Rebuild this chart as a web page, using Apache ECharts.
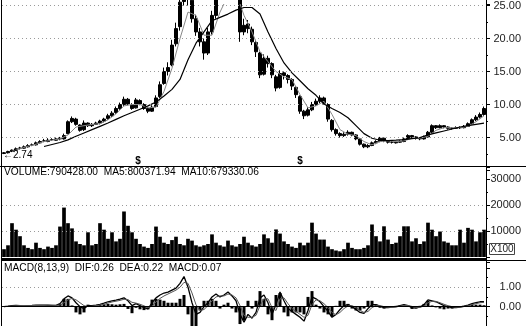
<!DOCTYPE html>
<html><head><meta charset="utf-8">
<script src="https://cdn.jsdelivr.net/npm/echarts@6/dist/echarts.min.js"></script>
<style>html,body{margin:0;padding:0;background:#fff}#c{width:526px;height:326px}</style>
</head><body><div id="c"></div>
<script>
// Price candles [open, close, low, high]
const ohlc = [
[2.6,2.7,2.5,2.8],[2.7,2.9,2.6,3.0],[2.9,3.1,2.8,3.2],[3.1,3.3,3.0,3.5],[3.4,3.4,3.2,3.6],[3.4,3.6,3.3,3.8],[3.6,3.8,3.5,4.0],[3.9,3.9,3.7,4.1],[3.9,4.2,3.8,4.4],[4.2,4.4,4.1,4.6],
[4.5,4.5,4.3,4.8],[4.4,4.6,4.3,4.9],[4.7,4.7,4.5,4.9],[4.6,4.8,4.5,5.0],[4.9,4.8,4.6,5.1],[4.8,5.3,4.7,5.6],[5.6,7.4,5.5,7.6],[7.4,7.9,7.2,8.2],[7.8,7.0,6.8,8.0],[6.9,6.1,5.9,7.0],
[6.2,7.2,6.0,7.6],[7.2,6.8,6.6,7.3],[6.8,7.0,6.6,7.2],[7.0,7.2,6.9,7.4],[7.2,7.5,7.0,7.7],[7.5,7.8,7.3,8.0],[7.9,8.3,7.7,8.6],[8.3,8.7,8.1,9.0],[8.8,9.4,8.6,9.7],[9.4,10.0,9.2,10.3],
[10.0,10.8,9.8,11.2],[10.8,10.1,9.9,11.0],[10.0,9.4,9.2,10.2],[9.5,10.7,9.4,11.0],[10.6,10.1,9.9,10.8],[10.0,9.4,9.2,10.2],[9.4,9.0,8.7,9.6],[9.0,9.6,8.9,9.9],[9.7,11.0,9.6,11.4],[11.2,13.0,11.0,13.5],
[13.2,15.0,13.0,15.6],[15.0,15.6,14.4,16.4],[16.0,19.0,15.8,19.8],[19.2,21.5,18.8,22.4],[21.8,25.5,21.2,26.5],[25.6,27.5,25.0,29.0],[27.4,26.0,25.0,28.4],[25.8,23.0,22.4,26.4],[23.0,21.0,20.4,23.6],[21.0,19.5,18.8,21.6],
[19.5,17.8,16.8,20.0],[17.8,21.0,17.5,21.6],[21.0,23.5,20.6,24.2],[23.5,26.0,23.0,27.0],[26.0,27.5,25.4,28.6],[27.5,28.5,26.8,29.6],[28.4,27.0,26.0,29.0],[27.0,29.0,26.6,30.0],[28.8,26.5,25.6,29.4],[26.0,21.0,19.5,26.5],
[21.0,22.0,20.5,23.0],[22.2,21.5,20.8,22.8],[21.4,19.5,19.0,21.8],[19.4,18.0,17.2,19.8],[17.8,14.5,14.0,18.0],[14.6,17.0,14.4,17.6],[17.0,16.2,15.6,17.4],[16.2,14.5,14.0,16.4],[14.2,12.5,12.0,14.5],[12.6,14.7,12.4,15.2],
[14.8,14.4,13.8,15.0],[14.4,13.8,13.2,14.6],[13.8,12.8,12.2,14.0],[12.6,11.5,11.0,12.8],[11.2,9.0,8.6,11.4],[9.0,8.3,7.8,9.2],[8.4,9.2,8.2,9.6],[9.2,10.0,9.0,10.4],[10.0,10.5,9.8,10.9],[10.5,11.0,10.2,11.4],
[11.0,10.2,10.0,11.2],[10.0,7.8,7.4,10.2],[7.6,6.2,5.9,7.8],[6.2,5.6,5.3,6.4],[5.6,5.3,5.0,5.8],[5.3,5.5,5.1,5.8],[5.5,5.8,5.3,6.1],[5.8,5.4,5.2,5.9],[5.4,4.8,4.6,5.5],[4.8,4.0,3.8,4.9],
[4.0,3.6,3.4,4.1],[3.6,3.8,3.4,4.0],[3.8,4.2,3.7,4.4],[4.2,4.4,4.0,4.6],[4.4,4.9,4.3,5.1],[4.9,4.5,4.3,5.0],[4.5,4.3,4.1,4.6],[4.3,4.3,4.1,4.5],[4.2,4.3,4.1,4.5],[4.3,4.4,4.2,4.6],
[4.4,4.8,4.3,5.0],[4.8,5.3,4.7,5.5],[5.3,5.1,4.9,5.4],[5.1,4.9,4.7,5.2],[4.9,4.8,4.6,5.0],[4.8,5.1,4.7,5.3],[5.1,5.8,5.0,6.0],[5.8,6.8,5.7,7.0],[6.8,6.5,6.3,6.9],[6.5,6.8,6.4,7.0],
[6.8,6.6,6.4,6.9],[6.6,6.4,6.2,6.7],[6.4,6.4,6.2,6.6],[6.4,6.5,6.3,6.7],[6.5,6.5,6.3,6.7],[6.5,6.7,6.4,6.9],[6.7,7.1,6.6,7.3],[7.1,7.7,7.0,7.9],[7.7,8.1,7.5,8.4],[8.1,8.5,7.9,8.8],
[8.5,9.4,8.3,9.7]
];
// short moving average, read every second bar starting at bar 2
const maShort = [2.9,3.3,3.7,4.0,4.4,4.6,4.8,5.4,6.6,6.8,
7.0,7.1,7.7,8.6,9.8,10.0,10.0,9.5,9.6,12.0,
15.5,20.0,24.0,23.5,20.5,20.5,24.0,26.5,27.0,23.5,
21.0,18.0,16.5,15.0,14.2,13.8,11.5,9.5,9.8,10.5,
8.5,6.2,5.5,5.3,4.4,3.9,4.4,4.5,4.4,4.5,
4.9,4.9,5.2,6.1,6.5,6.5,6.5,6.7,7.4,8.3];
// long moving average, read every second bar starting at bar 10
const maLong = [3.65,3.95,4.25,4.65,5.2,5.7,6.2,6.7,7.2,7.75,
8.3,8.8,9.3,9.8,10.4,11.3,12.3,13.8,16.8,19.3,
21.0,22.7,23.2,23.7,24.3,24.7,24.7,23.7,21.0,18.5,
16.3,14.8,13.6,12.4,11.4,10.1,9.4,8.8,8.0,6.8,
5.6,4.9,4.6,4.55,4.6,4.7,4.85,5.0,5.4,5.7,
6.0,6.3,6.6,6.8,7.0,7.2];
// volume (x100)
const volume = [3000,4500,13000,10500,8000,4500,3500,3000,5500,3500,
3000,4000,3500,4500,11700,19000,13000,11000,6000,5000,
4500,9500,4500,5000,13000,10500,7000,9500,6000,7000,
17500,12000,9500,7000,5000,4000,3500,5000,11700,7800,
5500,5000,6500,7800,5000,4500,7000,6300,4500,4000,
4500,5000,8700,5500,4500,4000,6300,4500,4000,5000,
7800,5500,4500,4000,5000,8700,7200,5500,10600,9000,
6000,5000,4000,3500,5500,4500,5500,13200,9000,6700,
6700,4000,3000,2500,2200,3000,5500,3500,3000,3000,
3500,4500,12500,8000,6000,11800,6700,5000,5500,8000,
11800,11800,6000,7200,5000,6000,13200,10500,8000,9800,
6000,5500,4500,4500,10500,5500,11200,10500,6000,9500,
10500];
const dif = [0.0,0.02,0.05,0.06,0.05,0.04,0.05,0.06,0.08,0.08,
0.08,0.07,0.06,0.06,0.15,0.4,0.55,0.45,0.2,0.0,
-0.1,0.05,0.05,0.08,0.12,0.18,0.25,0.3,0.33,0.38,
0.45,0.3,0.05,0.15,0.05,-0.05,-0.12,0.2,0.45,0.6,
0.7,0.75,0.85,0.95,1.2,1.55,1.0,0.2,-0.4,-0.3,
0.0,0.2,0.5,0.65,0.5,0.6,0.75,0.55,0.3,-0.4,
-0.8,-0.4,-0.6,-0.3,0.45,0.6,0.2,-0.4,0.1,0.75,
0.3,-0.1,-0.25,-0.4,-0.55,-0.75,-0.2,0.5,0.4,0.25,
0.0,-0.25,-0.55,-0.4,-0.15,0.05,0.1,0.0,-0.15,-0.3,
-0.35,-0.1,0.1,0.1,0.02,-0.05,-0.05,-0.03,0.0,0.05,
0.1,0.05,-0.05,-0.08,-0.02,0.1,0.35,0.3,0.25,0.15,
0.05,0.0,-0.05,-0.05,-0.02,0.02,0.08,0.15,0.2,0.25,
0.26];
const dea = [0.0,0.01,0.03,0.04,0.05,0.05,0.05,0.05,0.06,0.07,
0.07,0.07,0.07,0.06,0.08,0.2,0.35,0.42,0.35,0.2,
0.05,0.0,0.02,0.05,0.08,0.12,0.18,0.24,0.28,0.32,
0.38,0.36,0.22,0.18,0.12,0.04,-0.05,0.02,0.25,0.42,
0.55,0.65,0.75,0.85,1.0,1.25,1.2,0.7,0.1,-0.2,
-0.15,0.05,0.3,0.5,0.55,0.55,0.65,0.6,0.45,0.05,
-0.45,-0.55,-0.55,-0.45,0.05,0.4,0.4,-0.05,-0.2,0.4,
0.45,0.15,-0.1,-0.25,-0.4,-0.55,-0.45,0.1,0.35,0.3,
0.15,-0.05,-0.3,-0.42,-0.3,-0.1,0.03,0.05,-0.05,-0.2,
-0.3,-0.25,-0.05,0.05,0.05,0.0,-0.03,-0.04,-0.02,0.02,
0.06,0.06,0.01,-0.04,-0.04,0.03,0.2,0.27,0.27,0.2,
0.12,0.05,0.0,-0.03,-0.03,0.0,0.04,0.1,0.15,0.2,
0.22];
const macdHist = [0,0.02,0.04,0.04,0,-0.02,0,0.02,0.04,0.02,
0.02,0,-0.02,0,0.14,0.4,0.4,0.06,-0.3,-0.4,
-0.3,0.1,0.06,0.06,0.08,0.12,0.14,0.12,0.1,0.12,
0.14,-0.12,-0.34,-0.06,-0.14,-0.18,-0.14,0.36,0.4,0.36,
0.3,0.2,0.2,0.2,0.4,0.6,-0.4,-1.0,-1.0,-0.2,
0.3,0.3,0.4,0.3,-0.1,0.1,0.2,-0.1,-0.3,-0.9,
-0.7,0.3,-0.1,0.3,0.8,0.4,-0.4,-0.7,0.6,0.7,
-0.3,-0.5,-0.3,-0.3,-0.3,-0.4,0.5,0.8,0.1,-0.1,
-0.3,-0.4,-0.5,0.04,0.3,0.3,0.14,-0.1,-0.2,-0.2,
-0.1,0.3,0.3,0.1,-0.06,-0.1,-0.04,0.02,0.04,0.06,
0.08,-0.02,-0.12,-0.08,0.04,0.14,0.3,0.06,-0.04,-0.1,
-0.14,-0.1,-0.1,-0.04,0.02,0.04,0.08,0.1,0.1,0.1,
0.07];
const priceTicks = [5, 10, 15, 20, 25];
const volTicks = [10000, 20000];
const macdTicks = [1];
const volumeTitle = 'VOLUME:790428.00  MA5:800371.94  MA10:679330.06';
const macdTitle = 'MACD(8,13,9)  DIF:0.26  DEA:0.22  MACD:0.07';

const days = ohlc.map((_, i) => String(i));
const FONT = '"Liberation Sans", Arial, sans-serif';
const dotted = {color: '#9a9a9a', type: [1, 3], width: 1};
const gridMark = vals => ({silent: true, symbol: 'none', label: {show: false},
  lineStyle: dotted, data: vals.map(v => ({yAxis: v}))});

const chart = echarts.init(document.getElementById('c'), null, {renderer: 'canvas'});
const yBase = {
  type: 'value', position: 'right', splitLine: {show: false},
  axisLine: {show: false},
  axisTick: {show: true, length: 4, lineStyle: {color: '#000'}},
  minorTick: {show: true, splitNumber: 2, length: 2, lineStyle: {color: '#000'}},
  axisLabel: {color: '#222', fontSize: 11, fontFamily: FONT, align: 'right', margin: 35}
};
const xBase = {type: 'category', data: days, boundaryGap: true,
  axisLine: {show: false}, axisTick: {show: false}, axisLabel: {show: false}, splitLine: {show: false}};

chart.setOption({
  animation: false,
  backgroundColor: '#fff',
  grid: [
    {left: 2, width: 484, top: 0, height: 170.6},
    {left: 2, width: 484, top: 167, height: 90},
    {left: 2, width: 484, top: 262, height: 66}
  ],
  xAxis: [
    Object.assign({gridIndex: 0}, xBase),
    Object.assign({gridIndex: 1}, xBase),
    Object.assign({gridIndex: 2}, xBase)
  ],
  yAxis: [
    Object.assign({}, yBase, {gridIndex: 0, min: 0, max: 25.16, interval: 5,
      axisLabel: Object.assign({}, yBase.axisLabel, {formatter: v => (v > 0 && v <= 25 && Math.abs(v % 5) < 1e-6) ? v.toFixed(2) : ''})}),
    Object.assign({}, yBase, {gridIndex: 1, min: 0, max: 34600, interval: 10000,
      axisLabel: Object.assign({}, yBase.axisLabel, {formatter: v => (v > 0 && v <= 30000 && v % 10000 === 0) ? String(v) : ''})}),
    Object.assign({}, yBase, {gridIndex: 2, min: -1, max: 2.3, interval: 1,
      axisLabel: Object.assign({}, yBase.axisLabel, {formatter: v => (v === 0 || v === 1) ? v.toFixed(2) : ''})})
  ],
  series: [
    {type: 'candlestick', xAxisIndex: 0, yAxisIndex: 0, data: ohlc, barWidth: 4, clip: true,
      itemStyle: {color: '#000', color0: '#000', borderColor: '#000', borderColor0: '#000', borderWidth: 1},
      markLine: gridMark(priceTicks)},
    {type: 'line', xAxisIndex: 0, yAxisIndex: 0, data: maShort.map((v, k) => [2 + 2 * k, v]),
      symbol: 'none', clip: true, lineStyle: {color: '#888', width: 1}},
    {type: 'line', xAxisIndex: 0, yAxisIndex: 0, data: maLong.map((v, k) => [10 + 2 * k, v]),
      symbol: 'none', clip: true, lineStyle: {color: '#000', width: 1.2}},
    {type: 'bar', xAxisIndex: 1, yAxisIndex: 1, data: volume, barCategoryGap: '8%',
      itemStyle: {color: '#000'}, markLine: gridMark(volTicks)},
    {type: 'bar', xAxisIndex: 2, yAxisIndex: 2, data: macdHist, barWidth: 3,
      itemStyle: {color: '#000'},
      markLine: {silent: true, symbol: 'none', label: {show: false},
        data: [{yAxis: 1, lineStyle: dotted}, {yAxis: 0, lineStyle: {color: '#000', width: 1.2, type: 'solid'}}]}},
    {type: 'line', xAxisIndex: 2, yAxisIndex: 2, data: dif, symbol: 'none', clip: true,
      lineStyle: {color: '#000', width: 1.3}},
    {type: 'line', xAxisIndex: 2, yAxisIndex: 2, data: dea, symbol: 'none', clip: true,
      lineStyle: {color: '#555', width: 1}}
  ],
  graphic: [
    {type: 'line', shape: {x1: 0, y1: 166.5, x2: 526, y2: 166.5}, style: {stroke: '#000', lineWidth: 1}, z: 100},
    {type: 'line', shape: {x1: 2, y1: 259.5, x2: 486, y2: 259.5}, style: {stroke: '#000', lineWidth: 3}, z: 100},
    {type: 'line', shape: {x1: 486, y1: 260.5, x2: 526, y2: 260.5}, style: {stroke: '#000', lineWidth: 1}, z: 100},
    {type: 'line', shape: {x1: 1.5, y1: 0, x2: 1.5, y2: 326}, style: {stroke: '#000', lineWidth: 1}, z: 100},
    {type: 'line', shape: {x1: 486.5, y1: 0, x2: 486.5, y2: 326}, style: {stroke: '#000', lineWidth: 1}, z: 100},
    {type: 'text', x: 4, y: 172, z: 100, style: {text: volumeTitle, font: '10.2px ' + FONT, fill: '#000', verticalAlign: 'middle'}},
    {type: 'text', x: 4, y: 268, z: 100, style: {text: macdTitle, font: '10.2px ' + FONT, fill: '#000', verticalAlign: 'middle'}},
    {type: 'rect', shape: {x: 489.5, y: 243.5, width: 25, height: 11}, style: {fill: '#fff', stroke: '#444', lineWidth: 1}, z: 100},
    {type: 'text', x: 502, y: 249.5, z: 101, style: {text: 'X100', font: '10px ' + FONT, fill: '#222', align: 'center', verticalAlign: 'middle'}},
    {type: 'text', x: 3, y: 155, z: 100, style: {text: '←2.74', font: '10px ' + FONT, fill: '#000', verticalAlign: 'middle'}},
    {type: 'text', x: 138, y: 161, z: 100, style: {text: '$', font: 'bold 10px ' + FONT, fill: '#000', align: 'center', verticalAlign: 'middle'}},
    {type: 'text', x: 300, y: 161, z: 100, style: {text: '$', font: 'bold 10px ' + FONT, fill: '#000', align: 'center', verticalAlign: 'middle'}}
  ]
});
</script></body></html>
